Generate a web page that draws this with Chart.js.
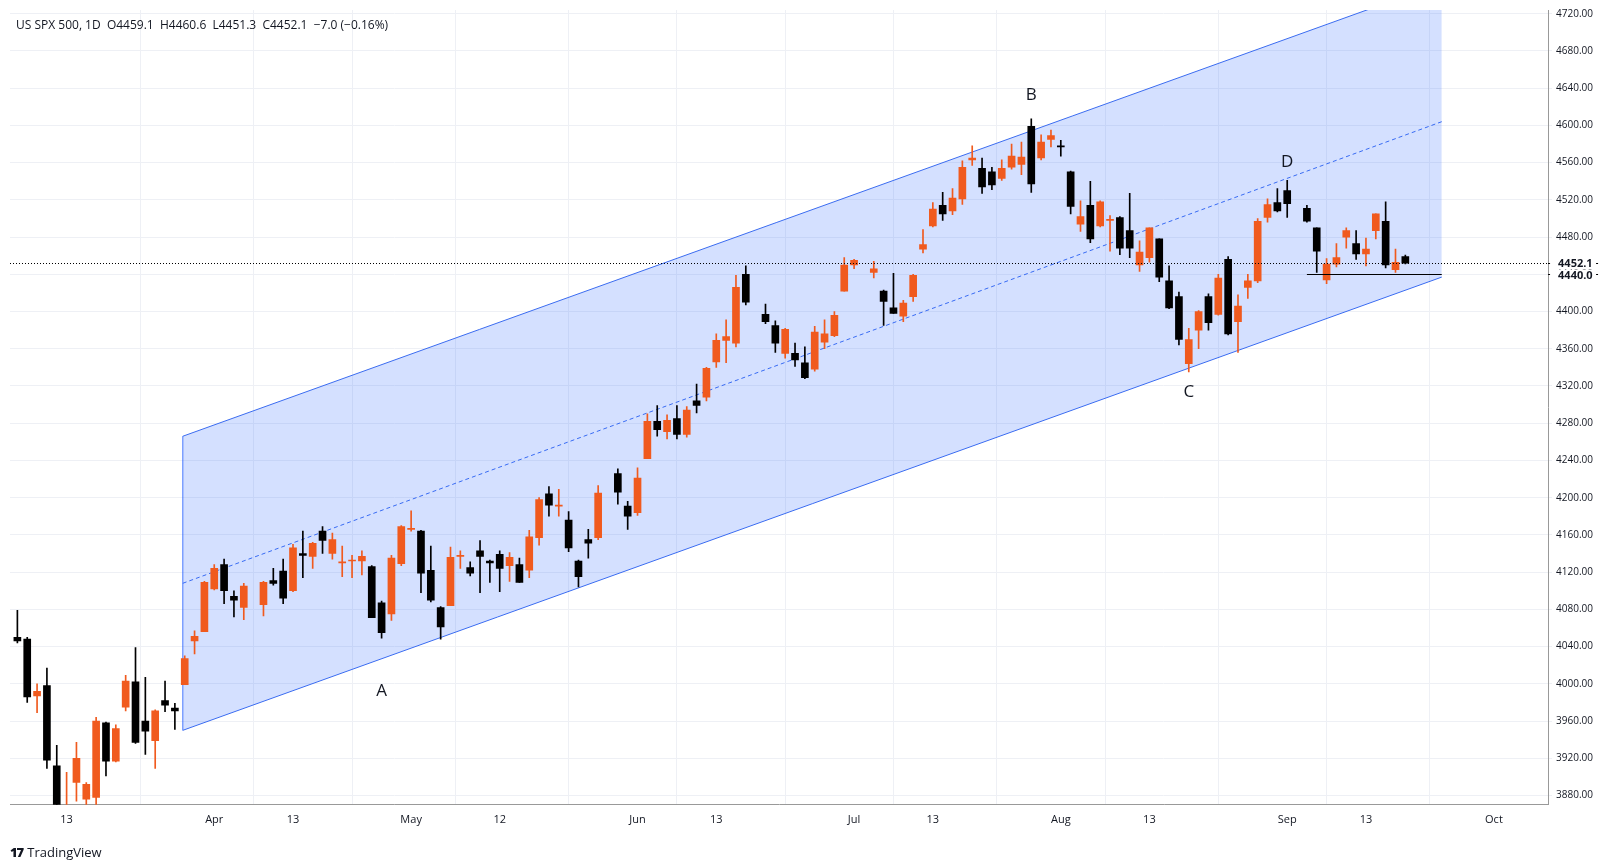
<!DOCTYPE html>
<html><head><meta charset="utf-8">
<script src="https://cdn.jsdelivr.net/npm/chart.js@4"></script>
<style>
html,body{margin:0;padding:0;background:#fff;}
#wrap{position:relative;width:1613px;height:868px;}
#title{position:absolute;left:16px;top:16px;font:12px "Open Sans",sans-serif;color:#131722;}
#logo{position:absolute;left:10px;top:843px;font:13px "Open Sans",sans-serif;color:#131722;}
#logo b{font-weight:900;letter-spacing:-1px;margin-right:4px;}
</style></head>
<body><div id="wrap"><canvas id="c" width="1613" height="868"></canvas>
<div id="title">US SPX 500, 1D&nbsp;&nbsp;O4459.1&nbsp; H4460.6&nbsp; L4451.3&nbsp; C4452.1&nbsp; −7.0 (−0.16%)</div>
<div id="logo"><b>17</b>TradingView</div></div>
<script>
const dates=["2023-03-06","2023-03-07","2023-03-08","2023-03-09","2023-03-10","2023-03-13","2023-03-14","2023-03-15","2023-03-16","2023-03-17","2023-03-20","2023-03-21","2023-03-22","2023-03-23","2023-03-24","2023-03-27","2023-03-28","2023-03-29","2023-03-30","2023-03-31",
"2023-04-03","2023-04-04","2023-04-05","2023-04-06","2023-04-10","2023-04-11","2023-04-12","2023-04-13","2023-04-14","2023-04-17","2023-04-18","2023-04-19","2023-04-20","2023-04-21","2023-04-24","2023-04-25","2023-04-26","2023-04-27","2023-04-28",
"2023-05-01","2023-05-02","2023-05-03","2023-05-04","2023-05-05","2023-05-08","2023-05-09","2023-05-10","2023-05-11","2023-05-12","2023-05-15","2023-05-16","2023-05-17","2023-05-18","2023-05-19","2023-05-22","2023-05-23","2023-05-24","2023-05-25","2023-05-26","2023-05-30","2023-05-31",
"2023-06-01","2023-06-02","2023-06-05","2023-06-06","2023-06-07","2023-06-08","2023-06-09","2023-06-12","2023-06-13","2023-06-14","2023-06-15","2023-06-16","2023-06-20","2023-06-21","2023-06-22","2023-06-23","2023-06-26","2023-06-27","2023-06-28","2023-06-29","2023-06-30",
"2023-07-03","2023-07-05","2023-07-06","2023-07-07","2023-07-10","2023-07-11","2023-07-12","2023-07-13","2023-07-14","2023-07-17","2023-07-18","2023-07-19","2023-07-20","2023-07-21","2023-07-24","2023-07-25","2023-07-26","2023-07-27","2023-07-28","2023-07-31",
"2023-08-01","2023-08-02","2023-08-03","2023-08-04","2023-08-07","2023-08-08","2023-08-09","2023-08-10","2023-08-11","2023-08-14","2023-08-15","2023-08-16","2023-08-17","2023-08-18","2023-08-21","2023-08-22","2023-08-23","2023-08-24","2023-08-25","2023-08-28","2023-08-29","2023-08-30","2023-08-31",
"2023-09-01","2023-09-05","2023-09-06","2023-09-07","2023-09-08","2023-09-11","2023-09-12","2023-09-13","2023-09-14","2023-09-15","2023-09-18","2023-09-19"];
const opens=[4050,4048,3987,3998,3912,3835,3894,3876,3878,3958,3917,3975,4002,3960,3939,3982,3974,3999,4046,4056,
4102,4128,4094,4082,4085,4111,4121,4100,4140,4137,4164,4140,4130,4132,4132,4126,4087,4075,4129,
4166,4164,4122,4082,4084,4137,4125,4143,4132,4139,4127,4128,4122,4157,4204,4191,4176,4132,4155,4157,4226,4191,
4184,4242,4282,4271,4285,4268,4304,4308,4346,4369,4366,4440,4397,4385,4355,4355,4345,4338,4367,4374,4422,
4450,4442,4422,4404,4395,4416,4467,4492,4514,4508,4521,4563,4554,4550,4543,4555,4558,4599,4565,4585,
4578,4550,4494,4514,4492,4498,4501,4487,4450,4458,4478,4433,4416,4344,4380,4416,4397,4456,4389,4426,4433,4501,4517,
4530,4511,4490,4434,4451,4480,4473,4462,4487,4497,4445,4459.1];
const highs=[4079,4050,4000,4017,3934,3905,3937,3894,3964,3959,3956,4009,4039,4007,3972,4003,3979,4030,4057,4110,
4128,4134,4100,4108,4110,4124,4134,4150,4164,4152,4169,4162,4148,4138,4143,4127,4089,4138,4170,
4186,4165,4148,4083,4147,4143,4131,4154,4133,4143,4141,4135,4165,4200,4212,4209,4185,4133,4166,4213,4231,4196,
4232,4290,4299,4289,4299,4298,4322,4340,4376,4391,4439,4449,4408,4390,4382,4366,4362,4384,4391,4400,4458,
4456,4454,4423,4441,4412,4440,4488,4517,4528,4532,4562,4578,4565,4555,4563,4580,4582,4607,4590,4595,
4584,4551,4519,4540,4519,4503,4502,4527,4476,4490,4478,4449,4421,4382,4401,4419,4440,4459,4418,4440,4500,4521,4532,
4541,4514,4490,4457,4473,4490,4487,4479,4505,4518,4467,4460.6];
const lows=[4044,3980,3969,3909,3846,3809,3874,3838,3864,3901,3916,3971,3936,3924,3909,3970,3951,3999,4032,4056,
4101,4086,4072,4069,4073,4106,4086,4099,4114,4124,4140,4134,4115,4114,4117,4071,4049,4068,4127,
4164,4098,4088,4048,4084,4124,4116,4098,4109,4099,4110,4109,4114,4149,4180,4180,4142,4104,4135,4155,4193,4166,
4181,4242,4266,4263,4263,4265,4291,4304,4340,4345,4362,4407,4387,4356,4350,4341,4328,4336,4360,4373,4422,
4446,4436,4385,4398,4389,4411,4463,4491,4498,4504,4515,4557,4527,4531,4541,4553,4547,4528,4563,4577,
4567,4505,4486,4474,4491,4465,4461,4458,4443,4453,4432,4403,4364,4335,4360,4380,4396,4375,4356,4414,4431,4496,4507,
4501,4496,4442,4430,4448,4468,4456,4449,4478,4447,4442,4451.3];
const closes=[4046,3986,3992,3918,3861,3855,3920,3892,3960,3917,3952,4003,3937,3949,3971,3977,3971,4027,4051,4109,
4124,4100,4090,4105,4109,4108,4092,4146,4138,4151,4154,4155,4130,4133,4137,4071,4055,4135,4169,
4167,4119,4090,4061,4136,4138,4119,4137,4130,4124,4136,4109,4158,4198,4192,4192,4146,4115,4151,4205,4206,4180,
4221,4282,4273,4283,4268,4294,4299,4339,4369,4373,4426,4410,4389,4366,4381,4348,4329,4378,4376,4396,4450,
4455,4446,4411,4398,4409,4439,4472,4510,4505,4522,4555,4565,4534,4536,4554,4567,4566,4537,4582,4589,
4577,4513,4502,4478,4518,4499,4468,4468,4464,4490,4437,4404,4370,4370,4400,4388,4436,4376,4406,4433,4497,4515,4508,
4516,4497,4465,4451,4458,4487,4462,4467,4505,4450,4453,4452.1];
const tickDates=["2023-03-13","2023-04-03","2023-04-13","2023-05-01","2023-05-12","2023-06-01","2023-06-13","2023-07-03","2023-07-13","2023-08-01","2023-08-14","2023-09-01","2023-09-13","2023-10-02"];
const tickLabels=["13","Apr","13","May","12","Jun","13","Jul","13","Aug","13","Sep","13","Oct"];
const channelUpper=[4266,4753];
const channelLower=[3950,4437];
const channelMid=[4108,4604];
const supportDates=["2023-09-05"];
const supportLevel=4440.0;
const lastPrice=4452.1;
const labelTexts=["A","B","C","D"];
const labelDates=["2023-04-26","2023-07-27","2023-08-18","2023-09-01"];
const labelPrices=[3992,4633,4313,4560];

function wi(s){const d=new Date(s+"T00:00:00Z"),b=new Date("2023-03-13T00:00:00Z");
 const days=Math.round((d-b)/864e5);const w=Math.floor(days/7);let r=days-w*7;if(r>4)r=4.5;return w*5+r;}
const cx=[11.8,139.7];
const UP="#f05a1e",DN="#000";
const xs=dates.map(wi);
const col=opens.map((o,i)=>closes[i]>=o?UP:DN);
const bodies=xs.map((x,i)=>{let a=opens[i],b=closes[i];if(Math.abs(a-b)<1){b=a+1;}return {x,y:[a,b]};});
const wicks=xs.map((x,i)=>({x,y:[lows[i],highs[i]]}));
const chBlue="#3b6cf0";
const overlay={id:'ov',afterDatasetsDraw(ch){
 const {ctx,chartArea:a,scales:{x,y}}=ch;ctx.save();
 ctx.beginPath();ctx.rect(a.left,a.top,a.right-a.left,a.bottom-a.top);ctx.clip();
 ctx.strokeStyle="#000";ctx.lineWidth=1;ctx.setLineDash([1,2]);
 const yl=Math.round(y.getPixelForValue(lastPrice))+0.5;
 ctx.beginPath();ctx.moveTo(a.left,yl);ctx.lineTo(a.right,yl);ctx.stroke();ctx.setLineDash([]);
 const ys=Math.round(y.getPixelForValue(supportLevel))+0.5;
 ctx.beginPath();ctx.moveTo(x.getPixelForValue(wi(supportDates[0])),ys);ctx.lineTo(x.getPixelForValue(cx[1]),ys);ctx.stroke();
 ctx.fillStyle="#131722";ctx.font="17px 'Open Sans'";ctx.textAlign="center";ctx.textBaseline="middle";
 labelTexts.forEach((t,i)=>ctx.fillText(t,x.getPixelForValue(wi(labelDates[i])),y.getPixelForValue(labelPrices[i])));
 ctx.restore();
 ctx.save();ctx.font="bold 11px 'Open Sans'";ctx.textBaseline="middle";ctx.textAlign="left";
 [[lastPrice,yl],[supportLevel,ys]].forEach(([v,py],k)=>{
  ctx.beginPath();ctx.moveTo(a.right,py);ctx.lineTo(a.right+50,py);ctx.strokeStyle="#000";ctx.stroke();
  ctx.fillStyle="#fff";ctx.fillRect(a.right+2,py-(k?5:7),46,12);
  ctx.fillStyle="#131722";ctx.fillText(v.toFixed(1),a.right+10,py+(k?1:0));
 });ctx.restore();
}};
new Chart(document.getElementById('c'),{
 data:{datasets:[
  {type:'line',data:cx.map((v,i)=>({x:v,y:channelUpper[i]})),borderColor:chBlue,borderWidth:1,pointRadius:0,fill:'+1',backgroundColor:'rgba(41,98,255,0.2)',order:5},
  {type:'line',data:cx.map((v,i)=>({x:v,y:channelLower[i]})),borderColor:chBlue,borderWidth:1,pointRadius:0,fill:false,order:5},
  {type:'line',data:cx.map((v,i)=>({x:v,y:channelMid[i]})),borderColor:chBlue,borderWidth:1,borderDash:[4,3],pointRadius:0,fill:false,order:5},
  {type:'line',data:[{x:cx[0],y:channelUpper[0]},{x:cx[0],y:channelLower[0]}],borderColor:'rgba(41,98,255,0.35)',borderWidth:1,pointRadius:0,order:5},
  {type:'bar',data:wicks,backgroundColor:col,barThickness:1,grouped:false,order:2},
  {type:'bar',data:bodies,backgroundColor:col,barThickness:7,grouped:false,order:1}
 ]},
 options:{responsive:false,animation:false,parsing:{xAxisKey:'x',yAxisKey:'y'},
  layout:{padding:{left:10,top:10,right:16,bottom:34}},
  plugins:{legend:{display:false},tooltip:{enabled:false}},
  scales:{
   x:{type:'linear',min:-5.75,max:150.5,offset:false,
    grid:{color:'#eef0f5',drawTicks:false},border:{color:'#999'},
    afterBuildTicks(s){s.ticks=tickDates.map(d=>({value:wi(d)}));},
    ticks:{autoSkip:false,maxRotation:0,padding:8,color:'#131722',font:{size:11,family:'Open Sans'},
     callback(v){const k=tickDates.findIndex(d=>wi(d)===v);return k>=0?tickLabels[k]:'';}}},
   y:{position:'right',min:3870,max:4724,
    grid:{color:'#eef0f5',drawTicks:true,tickLength:4},border:{color:'#999'},
    afterBuildTicks(s){const t=[];for(let v=3880;v<=4720;v+=40)t.push({value:v});s.ticks=t;},
    ticks:{padding:4,color:'#131722',font:{size:10,family:'Open Sans'},callback:v=>v.toFixed(2)}}
  }},
 plugins:[overlay]
});
</script></body></html>
